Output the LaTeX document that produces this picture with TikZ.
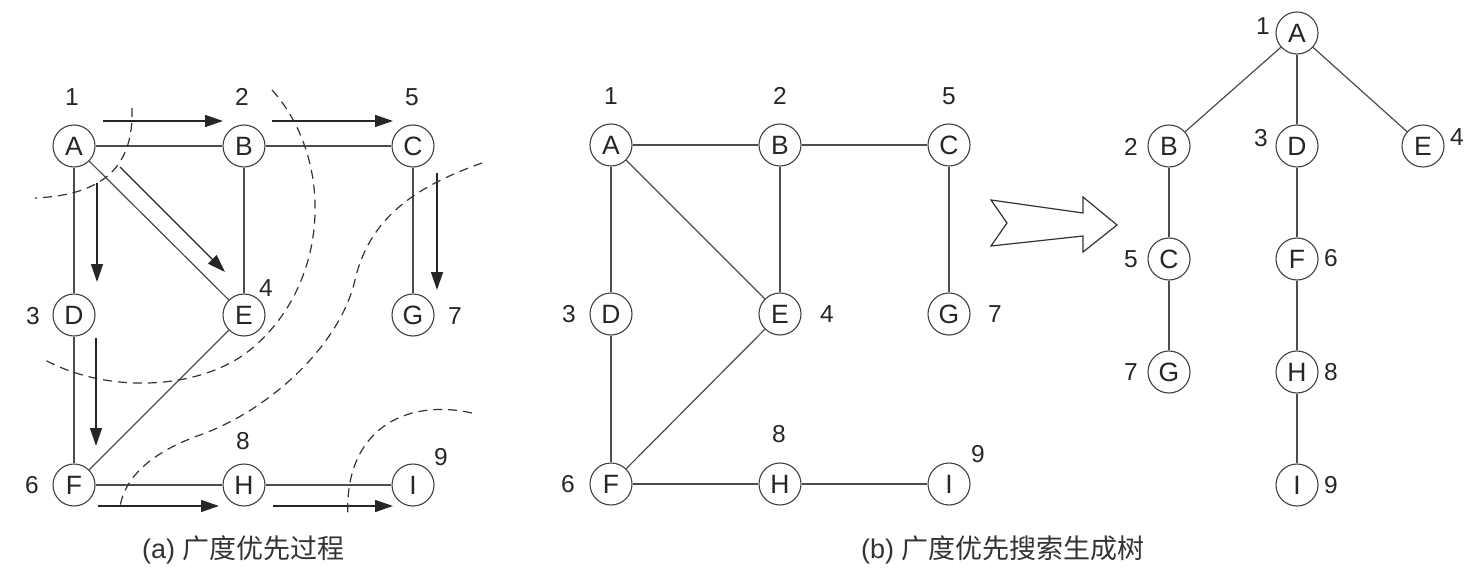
\documentclass[tikz,border=0pt]{standalone}
\usepackage{fontspec}
\setmainfont{Liberation Sans}
\newfontfamily\cjk{Noto Sans CJK SC}
\usetikzlibrary{arrows.meta}
\begin{document}
\begin{tikzpicture}[x=1pt,y=-1pt,
  vtx/.style={circle,draw=black!75,line width=1.1pt,minimum size=42pt,inner sep=0pt,font=\fontsize{26.5}{26.5}\selectfont,text=black!85},
  num/.style={font=\fontsize{24.5}{24.5}\selectfont,text=black!85,inner sep=0pt},
  edge/.style={draw=black!70,line width=1.2pt},
  flow/.style={draw=black!85,line width=1.4pt,-{Triangle[length=18pt,width=12pt]}},
  cutline/.style={draw=black!80,line width=1.2pt,dash pattern=on 9pt off 6pt},
  captext/.style={anchor=base west,font=\fontsize{27}{27}\selectfont,text=black!80,inner sep=0pt},
]
\useasboundingbox (0,0) rectangle (1480,572);

% ---------- (a) ----------
\node[vtx] (aA) at (74,146) {A};
\node[vtx] (aB) at (244,146) {B};
\node[vtx] (aC) at (413,146) {C};
\node[vtx] (aD) at (74,315) {D};
\node[vtx] (aE) at (244,315) {E};
\node[vtx] (aG) at (413,315) {G};
\node[vtx] (aF) at (74,485) {F};
\node[vtx] (aH) at (244,485) {H};
\node[vtx] (aI) at (413,485) {I};

\node[num] (an1) at (72,97) {1};
\node[num] (an2) at (242,97) {2};
\node[num] (an5) at (412,97) {5};
\node[num] (an3) at (33,316) {3};
\node[num] (an4) at (266,288) {4};
\node[num] (an7) at (455,316) {7};
\node[num] (an6) at (32,485) {6};
\node[num] (an8) at (243,441) {8};
\node[num] (an9) at (441,457) {9};

\draw[edge] (aA) -- (aB);
\draw[edge] (aB) -- (aC);
\draw[edge] (aA) -- (aD);
\draw[edge] (aD) -- (aF);
\draw[edge] (aA) -- (aE);
\draw[edge] (aB) -- (aE);
\draw[edge] (aC) -- (aG);
\draw[edge] (aE) -- (aF);
\draw[edge] (aF) -- (aH);
\draw[edge] (aH) -- (aI);

\draw[flow] (103,121) -- (223,121);
\draw[flow] (272,121) -- (393,121);
\draw[flow] (97,183) -- (97,282);
\draw[flow] (120,167) -- (225,272);
\draw[flow] (437,173) -- (437,290);
\draw[flow] (96,338) -- (96,446);
\draw[flow] (98,506) -- (219,506);
\draw[flow] (273,506) -- (393,506);

\draw[cutline] (132,108) .. controls (134,165) and (105,195) .. (35,198);
\draw[cutline] (272,90) .. controls (335,160) and (330,285) .. (250,350)
           .. controls (202,389) and (110,395) .. (45,360);
\draw[cutline] (482,163) .. controls (420,185) and (370,215) .. (355,280)
           .. controls (340,345) and (270,410) .. (200,435)
           .. controls (155,451) and (125,475) .. (120,507);
\draw[cutline] (472,413) .. controls (405,398) and (343,430) .. (348,518);

\node[captext] (capa) at (142,558) {(a) {\cjk 广度优先过程}};

% ---------- (b) ----------
\node[vtx] (bA) at (611,145) {A};
\node[vtx] (bB) at (780,145) {B};
\node[vtx] (bC) at (949,145) {C};
\node[vtx] (bD) at (611,314) {D};
\node[vtx] (bE) at (780,314) {E};
\node[vtx] (bG) at (949,314) {G};
\node[vtx] (bF) at (611,484) {F};
\node[vtx] (bH) at (780,484) {H};
\node[vtx] (bI) at (949,484) {I};

\node[num] (bn1) at (611,96) {1};
\node[num] (bn2) at (780,96) {2};
\node[num] (bn5) at (949,96) {5};
\node[num] (bn3) at (569,314) {3};
\node[num] (bn4) at (827,314) {4};
\node[num] (bn7) at (995,314) {7};
\node[num] (bn6) at (568,484) {6};
\node[num] (bn8) at (779,434) {8};
\node[num] (bn9) at (978,454) {9};

\draw[edge] (bA) -- (bB);
\draw[edge] (bB) -- (bC);
\draw[edge] (bA) -- (bD);
\draw[edge] (bD) -- (bF);
\draw[edge] (bA) -- (bE);
\draw[edge] (bB) -- (bE);
\draw[edge] (bC) -- (bG);
\draw[edge] (bE) -- (bF);
\draw[edge] (bF) -- (bH);
\draw[edge] (bH) -- (bI);

% hollow arrow
\draw[draw=black!80,line width=1.2pt,line join=miter] (991,200) -- (1083,213) -- (1083,197) -- (1117,225)
  -- (1083,252) -- (1083,236) -- (991,246) -- (1007,223) -- cycle;

% ---------- tree ----------
\node[vtx] (tA) at (1297,33) {A};
\node[vtx] (tB) at (1169,146) {B};
\node[vtx] (tD) at (1297,146) {D};
\node[vtx] (tE) at (1423,146) {E};
\node[vtx] (tC) at (1169,259) {C};
\node[vtx] (tF) at (1297,259) {F};
\node[vtx] (tG) at (1169,372) {G};
\node[vtx] (tH) at (1297,372) {H};
\node[vtx] (tI) at (1297,485) {I};

\node[num] (tn1) at (1263,26) {1};
\node[num] (tn2) at (1131,147) {2};
\node[num] (tn3) at (1261,138) {3};
\node[num] (tn4) at (1457,137) {4};
\node[num] (tn5) at (1131,259) {5};
\node[num] (tn6) at (1331,258) {6};
\node[num] (tn7) at (1131,372) {7};
\node[num] (tn8) at (1331,372) {8};
\node[num] (tn9) at (1331,485) {9};

\draw[edge] (tA) -- (tB);
\draw[edge] (tA) -- (tD);
\draw[edge] (tA) -- (tE);
\draw[edge] (tB) -- (tC);
\draw[edge] (tC) -- (tG);
\draw[edge] (tD) -- (tF);
\draw[edge] (tF) -- (tH);
\draw[edge] (tH) -- (tI);

\node[captext] (capb) at (861,558) {(b) {\cjk 广度优先搜索生成树}};
\end{tikzpicture}
\end{document}
